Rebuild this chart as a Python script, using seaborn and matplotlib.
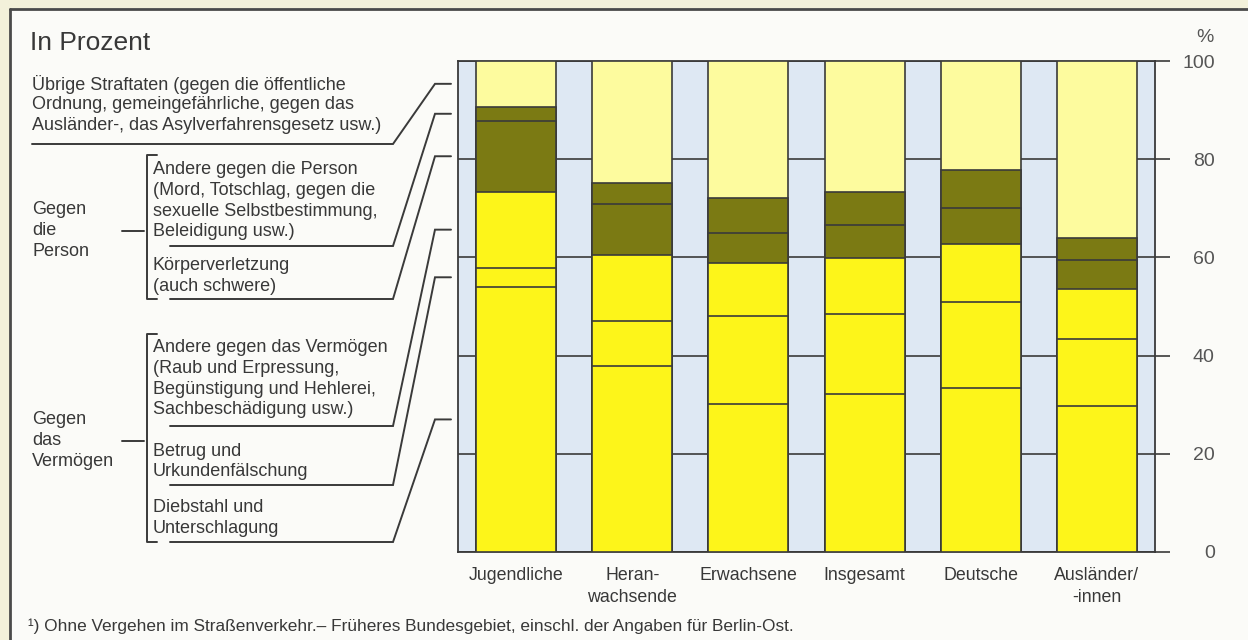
import matplotlib
matplotlib.use('Agg')
import matplotlib.pyplot as plt
from matplotlib.patches import Rectangle
import seaborn as sns
import pandas as pd

# =============================================================================
# Data (percent shares, bottom to top of each bar)
# =============================================================================
categories = ['Jugendliche', 'Heran-\nwachsende', 'Erwachsene', 'Insgesamt',
              'Deutsche', 'Ausländer/\n-innen']

diebstahl = [54.0, 37.9, 30.1, 32.2, 33.5, 29.7]
betrug = [3.9, 9.2, 18.0, 16.2, 17.4, 13.6]
andere_vermoegen = [15.5, 13.4, 10.8, 11.4, 11.8, 10.2]
koerperverletzung = [14.4, 10.3, 6.0, 6.9, 7.3, 6.0]
andere_person = [2.9, 4.4, 7.1, 6.7, 7.8, 4.4]
uebrige = [9.3, 24.8, 28.0, 26.6, 22.2, 36.1]

y_ticks = [0, 20, 40, 60, 80, 100]

label_uebrige = ['Übrige Straftaten (gegen die öffentliche',
                 'Ordnung, gemeingefährliche, gegen das',
                 'Ausländer-, das Asylverfahrensgesetz usw.)']
label_andere_person = ['Andere gegen die Person', '(Mord, Totschlag, gegen die',
                       'sexuelle Selbstbestimmung,', 'Beleidigung usw.)']
label_koerper = ['Körperverletzung', '(auch schwere)']
label_andere_verm = ['Andere gegen das Vermögen', '(Raub und Erpressung,',
                     'Begünstigung und Hehlerei,', 'Sachbeschädigung usw.)']
label_betrug = ['Betrug und', 'Urkundenfälschung']
label_dieb = ['Diebstahl und', 'Unterschlagung']
group_person = ['Gegen', 'die', 'Person']
group_verm = ['Gegen', 'das', 'Vermögen']

title_text = 'In Prozent'
footnote = '¹) Ohne Vergehen im Straßenverkehr.– Früheres Bundesgebiet, einschl. der Angaben für Berlin-Ost.'

# colours
c_bright = '#fdf51a'
c_light = '#fdfb9e'
c_olive = '#7b7a13'
c_blue = '#dee8f3'
c_line = '#3a3a3a'
c_text = '#383838'

sns.set_style('white')
plt.rcParams['font.family'] = ['Liberation Sans', 'DejaVu Sans']

# =============================================================================
# Figure and background (pixel coordinates)
# =============================================================================
W, H = 1248, 640
fig = plt.figure(figsize=(W / 100, H / 100), dpi=100)
fig.patch.set_facecolor('#f3f1da')

bg = fig.add_axes([0, 0, 1, 1])
bg.set_xlim(0, W)
bg.set_ylim(H, 0)
bg.axis('off')
bg.add_patch(Rectangle((10, 9), W, H, facecolor='#fbfbf8', edgecolor='none'))
bg.plot([10, W], [9, 9], color='#4a4a4a', lw=2)
bg.plot([10, 10], [9, H], color='#4a4a4a', lw=2)

# main axes placement
AX_L, AX_R, AX_T, AX_B = 458, 1155, 61, 552
ax = fig.add_axes([AX_L / W, (H - AX_B) / H, (AX_R - AX_L) / W, (AX_B - AX_T) / H])
ax.set_facecolor(c_blue)

# =============================================================================
# Stacked bars (cumulative, drawn from the top layer down)
# =============================================================================
layers = [diebstahl, betrug, andere_vermoegen, koerperverletzung, andere_person, uebrige]
layer_colors = [c_bright, c_bright, c_bright, c_olive, c_olive, c_light]
cum = [0.0] * len(categories)
cum_layers = []
for vals in layers:
    cum = [a + b for a, b in zip(cum, vals)]
    cum_layers.append(cum)

for top, col in zip(reversed(cum_layers), reversed(layer_colors)):
    sns.barplot(x=categories, y=top, color=col, saturation=1, width=0.69,
                edgecolor=c_line, linewidth=1.2, ax=ax, zorder=3)

ax.set_xlim(-0.5, len(categories) - 0.5)
ax.set_ylim(0, 100)
ax.set_yticks(y_ticks)
ax.yaxis.grid(True, color=c_line, lw=1.2)
ax.xaxis.grid(False)
ax.set_axisbelow(True)
for s in ax.spines.values():
    s.set_visible(True)
    s.set_color(c_line)
    s.set_linewidth(1.3)

ax.yaxis.tick_right()
ax.tick_params(axis='y', direction='out', length=11, width=1.2, color=c_line,
               pad=32, labelsize=14, labelcolor='#555555')
for lab in ax.get_yticklabels():
    lab.set_horizontalalignment('right')
ax.tick_params(axis='x', length=0, pad=11, labelsize=12.8, labelcolor=c_text)
for lab in ax.get_xticklabels():
    lab.set_linespacing(1.4)
ax.set_xlabel('')
ax.set_ylabel('')

# =============================================================================
# Labels, brackets and leader lines on the left
# =============================================================================
def ypix(v):
    return AX_B - v * (AX_B - AX_T) / 100


def put_lines(lines, x, y0, step=20.5, size=13):
    for i, t in enumerate(lines):
        bg.text(x, y0 + i * step, t, fontsize=size, color=c_text, va='center', ha='left')


# midpoints of the first bar's segments
bottoms = [0.0] + [c[0] for c in cum_layers[:-1]]
mids = [(b + c[0]) / 2 for b, c in zip(bottoms, cum_layers)]

blocks = [
    (label_dieb, 153, 508, 170, 542, mids[0]),
    (label_betrug, 153, 451, 170, 485, mids[1]),
    (label_andere_verm, 153, 348, 170, 426, mids[2]),
    (label_koerper, 153, 266, 170, 299, mids[3]),
    (label_andere_person, 153, 170, 170, 246, mids[4]),
    (label_uebrige, 32, 84, 32, 144, mids[5]),
]
for lines, tx, ty, ux, uy, mid in blocks:
    put_lines(lines, tx, ty)
    ye = ypix(mid)
    bg.plot([ux, 393, 435, 451], [uy, uy, ye, ye], color=c_line, lw=1.4,
            solid_joinstyle='miter')

# group labels with brackets
put_lines(group_person, 32, 210)
bg.plot([122, 144], [231, 231], color=c_line, lw=1.4)
bg.plot([157, 147, 147, 157], [155, 155, 299, 299], color=c_line, lw=1.4)

put_lines(group_verm, 32, 420)
bg.plot([122, 144], [441, 441], color=c_line, lw=1.4)
bg.plot([157, 147, 147, 157], [334, 334, 542, 542], color=c_line, lw=1.4)

bg.text(30, 43, title_text, fontsize=19, color=c_text, va='center', ha='left')
bg.text(1214, 37, '%', fontsize=14, color='#555555', va='center', ha='right')
bg.text(28, 626, footnote, fontsize=12.4, color=c_text, va='center', ha='left')

plt.savefig('out.png', dpi=100, facecolor=fig.get_facecolor())
